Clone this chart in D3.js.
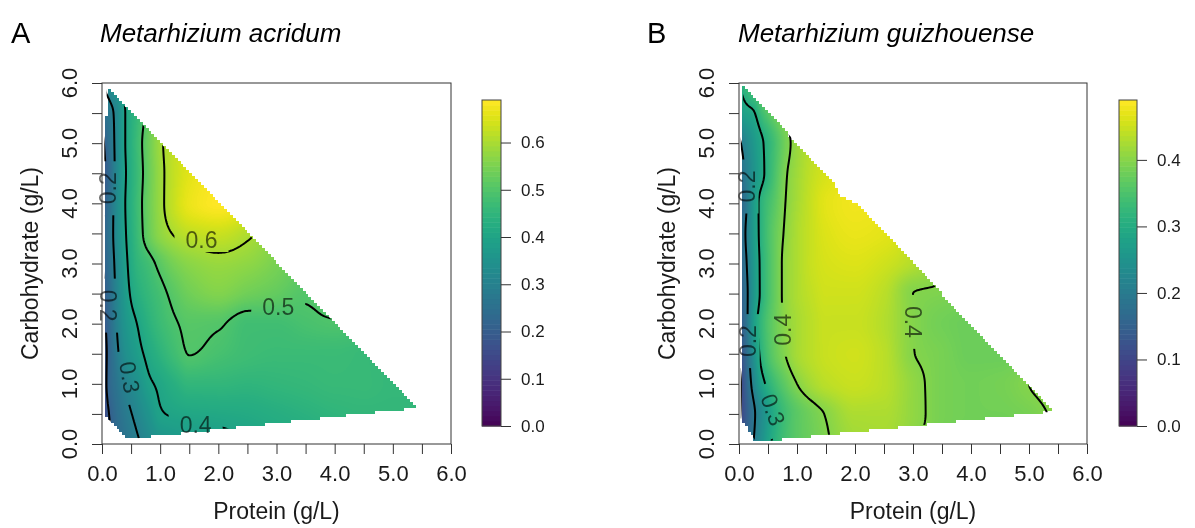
<!DOCTYPE html>
<html><head><meta charset="utf-8">
<script src="https://cdn.jsdelivr.net/npm/d3@7"></script>
<style>
body{margin:0;background:#fff;}
#wrap{position:relative;width:1195px;height:528px;overflow:hidden;}
canvas,svg{position:absolute;left:0;top:0;}
text{font-family:"Liberation Sans",Arial,Helvetica,sans-serif;}
</style></head><body><div id="wrap"><canvas id="cv" width="1195" height="528"></canvas><svg id="sv" width="1195" height="528"></svg></div>
<script>
// ---------------- data ----------------
const proteinNodes = [0, 0.1, 0.25, 0.4, 0.6, 0.8, 1.0, 1.25, 1.5, 2.0, 2.5, 3.0, 3.5, 4.0, 4.5, 5.0, 5.5, 6.0];
const carbNodes = [0, 0.5, 1, 1.5, 2, 2.5, 3, 3.5, 4, 4.5, 5, 5.5, 6];

// fitted response (rows: carbohydrate 0 -> 6, columns: protein nodes)
const surfaceA = [
 [0.10, 0.17, 0.225, 0.26, 0.29, 0.32, 0.345, 0.36, 0.37, 0.38, 0.395, 0.41, 0.42, 0.43, 0.44, 0.445, 0.45, 0.45],
 [0.11, 0.19, 0.245, 0.28, 0.315, 0.355, 0.395, 0.405, 0.41, 0.415, 0.42, 0.43, 0.44, 0.45, 0.455, 0.455, 0.455, 0.455],
 [0.13, 0.215, 0.265, 0.305, 0.345, 0.39, 0.41, 0.435, 0.455, 0.455, 0.45, 0.455, 0.46, 0.465, 0.465, 0.46, 0.46, 0.46],
 [0.15, 0.21, 0.285, 0.34, 0.38, 0.415, 0.445, 0.478, 0.501, 0.488, 0.475, 0.47, 0.47, 0.47, 0.465, 0.46, 0.46, 0.46],
 [0.165, 0.22, 0.30, 0.36, 0.40, 0.44, 0.47, 0.495, 0.51, 0.505, 0.48, 0.48, 0.49, 0.497, 0.49, 0.475, 0.465, 0.46],
 [0.18, 0.23, 0.31, 0.375, 0.43, 0.46, 0.485, 0.515, 0.54, 0.56, 0.54, 0.525, 0.505, 0.51, 0.5, 0.48, 0.47, 0.46],
 [0.195, 0.24, 0.32, 0.385, 0.45, 0.48, 0.515, 0.55, 0.57, 0.585, 0.575, 0.55, 0.52, 0.5, 0.48, 0.47, 0.46, 0.46],
 [0.20, 0.25, 0.33, 0.395, 0.465, 0.53, 0.575, 0.605, 0.625, 0.635, 0.61, 0.57, 0.53, 0.5, 0.47, 0.46, 0.46, 0.46],
 [0.18, 0.24, 0.33, 0.40, 0.47, 0.535, 0.585, 0.635, 0.67, 0.69, 0.665, 0.6, 0.54, 0.5, 0.47, 0.46, 0.46, 0.46],
 [0.17, 0.22, 0.32, 0.395, 0.465, 0.53, 0.585, 0.63, 0.66, 0.68, 0.65, 0.58, 0.53, 0.49, 0.47, 0.46, 0.46, 0.46],
 [0.18, 0.24, 0.32, 0.40, 0.47, 0.535, 0.59, 0.63, 0.65, 0.65, 0.6, 0.55, 0.51, 0.48, 0.47, 0.46, 0.46, 0.46],
 [0.25, 0.27, 0.32, 0.40, 0.46, 0.52, 0.56, 0.6, 0.62, 0.62, 0.58, 0.54, 0.5, 0.48, 0.47, 0.46, 0.46, 0.46],
 [0.29, 0.33, 0.38, 0.43, 0.5, 0.55, 0.58, 0.6, 0.6, 0.58, 0.55, 0.52, 0.5, 0.48, 0.47, 0.46, 0.46, 0.46]
];
const surfaceB = [
 [0.12, 0.15, 0.20, 0.25, 0.31, 0.345, 0.365, 0.38, 0.395, 0.42, 0.425, 0.405, 0.385, 0.38, 0.38, 0.385, 0.40, 0.405],
 [0.09, 0.13, 0.19, 0.24, 0.30, 0.34, 0.365, 0.385, 0.402, 0.43, 0.43, 0.41, 0.39, 0.385, 0.385, 0.39, 0.405, 0.41],
 [0.08, 0.14, 0.22, 0.285, 0.335, 0.37, 0.40, 0.425, 0.44, 0.45, 0.44, 0.41, 0.39, 0.385, 0.388, 0.40, 0.412, 0.415],
 [0.11, 0.155, 0.245, 0.32, 0.37, 0.40, 0.425, 0.44, 0.45, 0.455, 0.44, 0.401, 0.39, 0.38, 0.38, 0.385, 0.39, 0.39],
 [0.13, 0.17, 0.27, 0.33, 0.375, 0.405, 0.425, 0.44, 0.45, 0.45, 0.435, 0.40, 0.385, 0.38, 0.38, 0.38, 0.38, 0.38],
 [0.14, 0.175, 0.255, 0.315, 0.37, 0.41, 0.43, 0.445, 0.455, 0.455, 0.44, 0.40, 0.395, 0.39, 0.385, 0.385, 0.385, 0.385],
 [0.15, 0.185, 0.26, 0.315, 0.37, 0.41, 0.43, 0.45, 0.46, 0.465, 0.455, 0.435, 0.41, 0.395, 0.385, 0.385, 0.385, 0.385],
 [0.15, 0.195, 0.265, 0.32, 0.37, 0.405, 0.43, 0.45, 0.465, 0.475, 0.47, 0.45, 0.425, 0.405, 0.39, 0.39, 0.39, 0.39],
 [0.15, 0.185, 0.265, 0.32, 0.36, 0.40, 0.425, 0.45, 0.47, 0.48, 0.475, 0.455, 0.425, 0.40, 0.39, 0.39, 0.39, 0.39],
 [0.17, 0.20, 0.25, 0.29, 0.345, 0.395, 0.42, 0.445, 0.46, 0.475, 0.47, 0.45, 0.42, 0.40, 0.39, 0.39, 0.39, 0.39],
 [0.19, 0.22, 0.26, 0.295, 0.34, 0.385, 0.415, 0.44, 0.455, 0.47, 0.465, 0.445, 0.42, 0.40, 0.39, 0.39, 0.39, 0.39],
 [0.26, 0.28, 0.295, 0.34, 0.38, 0.41, 0.43, 0.45, 0.46, 0.47, 0.46, 0.44, 0.42, 0.40, 0.39, 0.39, 0.39, 0.39],
 [0.30, 0.33, 0.37, 0.40, 0.43, 0.45, 0.46, 0.47, 0.47, 0.47, 0.46, 0.44, 0.42, 0.40, 0.39, 0.39, 0.39, 0.39]
];

// experimental region (protein, carbohydrate)
const hullA = [[0.04,0.48],[0.04,5.43],[0.08,5.43],[0.08,5.92],[5.42,0.6],[0.44,0.08]];
const hullB = [[0.03,0.43],[0.03,5.44],[0.07,5.44],[0.07,5.94],[1.63,4.36],[1.74,4.11],[2.03,4.0],[5.42,0.54],[0.41,0.04],[0.28,0.06]];

const contourLevels = [0.1, 0.2, 0.3, 0.4, 0.5, 0.6];
const labelsA = [
 {text:"0.6", x:1.71, y:3.39, angle:0},
 {text:"0.5", x:3.03, y:2.28, angle:0},
 {text:"0.4", x:1.61, y:0.32, angle:0},
 {text:"0.3", x:0.48, y:1.11, angle:80},
 {text:"0.2", x:0.11, y:2.3, angle:90},
 {text:"0.2", x:0.10, y:4.25, angle:-90}
];
const labelsB = [
 {text:"0.2", x:0.13, y:4.28, angle:-90},
 {text:"0.2", x:0.15, y:1.71, angle:-90},
 {text:"0.3", x:0.59, y:0.57, angle:70},
 {text:"0.4", x:0.75, y:1.9, angle:-90},
 {text:"0.4", x:3.0, y:2.03, angle:90}
];

const axisTicks = [0,0.5,1,1.5,2,2.5,3,3.5,4,4.5,5,5.5,6];
const legendTicksA = [0,0.1,0.2,0.3,0.4,0.5,0.6];
const legendTicksB = [0,0.1,0.2,0.3,0.4];
const zRangeA = [0, 0.69];
const zRangeB = [0, 0.49];
const titlesA = {letter:"A", species:"Metarhizium acridum"};
const titlesB = {letter:"B", species:"Metarhizium guizhouense"};

// ---------------- helpers ----------------
function pchip(xs, ys){
  const n=xs.length, h=[], d=[], m=new Array(n);
  for(let i=0;i<n-1;i++){h[i]=xs[i+1]-xs[i]; d[i]=(ys[i+1]-ys[i])/h[i];}
  m[0]=d[0]; m[n-1]=d[n-2];
  for(let i=1;i<n-1;i++){
    if(d[i-1]*d[i]<=0) m[i]=0;
    else { const w1=2*h[i]+h[i-1], w2=h[i]+2*h[i-1]; m[i]=(w1+w2)/(w1/d[i-1]+w2/d[i]); }
  }
  return x=>{
    let i=d3.bisectRight(xs,x)-1; i=Math.max(0,Math.min(n-2,i));
    const t=(x-xs[i])/h[i], t2=t*t, t3=t2*t;
    return (2*t3-3*t2+1)*ys[i]+(t3-2*t2+t)*h[i]*m[i]+(-2*t3+3*t2)*ys[i+1]+(t3-t2)*h[i]*m[i+1];
  };
}
const STEP=0.025, N=241;
function buildGrid(surface){
  const rowsFine = surface.map(row=>{const f=pchip(proteinNodes,row); return d3.range(N).map(i=>f(i*STEP));});
  const grid = new Float64Array(N*N);
  for(let i=0;i<N;i++){
    const g=pchip(carbNodes, rowsFine.map(r=>r[i]));
    for(let k=0;k<N;k++) grid[k*N+i]=g(k*STEP);
  }
  return grid;
}
function sample(grid,x,y){
  let fx=Math.max(0,Math.min(N-1.0001,x/STEP)), fy=Math.max(0,Math.min(N-1.0001,y/STEP));
  const i=Math.floor(fx), k=Math.floor(fy), tx=fx-i, ty=fy-k;
  const a=grid[k*N+i], b=grid[k*N+i+1], c=grid[(k+1)*N+i], d=grid[(k+1)*N+i+1];
  return a*(1-tx)*(1-ty)+b*tx*(1-ty)+c*(1-tx)*ty+d*tx*ty;
}
const lut = d3.range(256).map(i=>d3.rgb(d3.interpolateViridis(i/255)));

const W=1195,H=528;
const canvas=document.getElementById('cv'), ctx=canvas.getContext('2d');
const img=ctx.createImageData(W,H);
const svg=d3.select('#sv');
const FONT='"Liberation Sans",Arial,Helvetica,sans-serif';

const panels=[
 {id:'A', surface:surfaceA, hull:hullA, labels:labelsA, z:zRangeA, lt:legendTicksA, titles:titlesA,
  x:d3.scaleLinear([0,6],[102,451]), y:d3.scaleLinear([0,6],[444,83]), bar:[482,501], letterX:11, titleX:100},
 {id:'B', surface:surfaceB, hull:hullB, labels:labelsB, z:zRangeB, lt:legendTicksB, titles:titlesB,
  x:d3.scaleLinear([0,6],[739,1087]), y:d3.scaleLinear([0,6],[444,83]), bar:[1119,1137], letterX:647, titleX:738}
];

const CELL=0.05;
panels.forEach(p=>{
  const grid=buildGrid(p.surface);
  p.grid=grid;
  const [px0,px1]=p.x.range(), py0=p.y(6), py1=p.y(0);
  const cache=new Map();
  for(let py=Math.floor(py0); py<Math.ceil(py1); py++){
    for(let px=Math.floor(px0); px<Math.ceil(px1); px++){
      const dx=p.x.invert(px+0.5), dy=p.y.invert(py+0.5);
      const ci=Math.floor(dx/CELL), cj=Math.floor(dy/CELL), key=ci*1000+cj;
      let inside=cache.get(key);
      if(inside===undefined){inside=d3.polygonContains(p.hull,[(ci+0.5)*CELL,(cj+0.5)*CELL]); cache.set(key,inside);}
      if(!inside) continue;
      const v=sample(grid,dx,dy);
      const t=(v-p.z[0])/(p.z[1]-p.z[0]);
      const c=lut[Math.max(0,Math.min(255,Math.round(t*255)))];
      const idx=(py*W+px)*4;
      img.data[idx]=c.r; img.data[idx+1]=c.g; img.data[idx+2]=c.b; img.data[idx+3]=255;
    }
  }
});
ctx.putImageData(img,0,0);

panels.forEach(p=>{
  const g=svg.append('g');
  const x=p.x, y=p.y;
  const defs=svg.append('defs');
  defs.append('clipPath').attr('id','clip'+p.id).append('path')
    .attr('d', d3.line()(p.hull.map(d=>[x(d[0]),y(d[1])]))+'Z');
  const mask=defs.append('mask').attr('id','mask'+p.id).attr('maskUnits','userSpaceOnUse')
    .attr('x',0).attr('y',0).attr('width',W).attr('height',H);
  mask.append('rect').attr('width',W).attr('height',H).attr('fill','#fff');
  mask.selectAll('rect.l').data(p.labels).join('rect').attr('class','l')
    .attr('x',-27).attr('y',-12).attr('width',54).attr('height',24).attr('fill','#000')
    .attr('transform',d=>`translate(${x(d.x)},${y(d.y)}) rotate(${d.angle})`);

  const cs=d3.contours().size([N,N]).thresholds(contourLevels)(p.grid);
  const proj=d3.geoTransform({point(a,b){this.stream.point(x((a-0.5)*STEP), y((b-0.5)*STEP));}});
  const path=d3.geoPath(proj);
  g.append('g').attr('clip-path',`url(#clip${p.id})`).append('g').attr('mask',`url(#mask${p.id})`)
    .selectAll('path').data(cs).join('path').attr('d',path)
    .attr('fill','none').attr('stroke','#000').attr('stroke-width',2).attr('stroke-linejoin','round');

  g.append('g').selectAll('text').data(p.labels).join('text')
    .attr('transform',d=>`translate(${x(d.x)},${y(d.y)}) rotate(${d.angle})`)
    .attr('text-anchor','middle').attr('dy','0.36em')
    .attr('font-size',23).attr('fill','#000').attr('fill-opacity',0.6)
    .text(d=>d.text);

  g.append('rect').attr('x',x(0)).attr('y',y(6)).attr('width',x(6)-x(0)).attr('height',y(0)-y(6))
    .attr('fill','none').attr('stroke','#333').attr('stroke-width',1);

  const ax=g.append('g').attr('transform',`translate(0,${y(0)})`)
    .call(d3.axisBottom(x).tickValues(axisTicks).tickFormat(d=>d%1===0?d3.format('.1f')(d):'').tickSize(10).tickPadding(11));
  ax.select('.domain').remove();
  ax.selectAll('line').attr('stroke','#333');
  ax.selectAll('text').attr('font-size',22).attr('font-family',FONT).attr('fill','#1a1a1a');
  const ay=g.append('g').attr('transform',`translate(${x(0)},0)`)
    .call(d3.axisLeft(y).tickValues(axisTicks).tickFormat('').tickSize(10));
  ay.select('.domain').remove();
  ay.selectAll('line').attr('stroke','#333');
  g.append('g').selectAll('text').data(axisTicks.filter(d=>d%1===0)).join('text')
    .attr('transform',d=>`translate(${x(0)-25},${y(d)}) rotate(-90)`)
    .attr('text-anchor','middle').attr('font-size',22).attr('fill','#1a1a1a')
    .text(d=>d3.format('.1f')(d));

  g.append('text').attr('x',(x(0)+x(6))/2).attr('y',519).attr('text-anchor','middle')
    .attr('font-size',23).attr('fill','#1a1a1a').text('Protein (g/L)');
  g.append('text').attr('transform',`translate(${x(0)-64},${(y(0)+y(6))/2}) rotate(-90)`)
    .attr('text-anchor','middle').attr('font-size',23).attr('fill','#1a1a1a').text('Carbohydrate (g/L)');

  g.append('text').attr('x',p.letterX).attr('y',43).attr('font-size',29).attr('fill','#000').text(p.titles.letter);
  g.append('text').attr('x',p.titleX).attr('y',42).attr('font-size',26).attr('font-style','italic').attr('fill','#000').text(p.titles.species);

  const c=d3.scaleLinear(p.z,[426,100]);
  const nb=64, bands=d3.range(nb);
  const lg=g.append('g');
  lg.selectAll('rect').data(bands).join('rect')
    .attr('x',p.bar[0]).attr('width',p.bar[1]-p.bar[0])
    .attr('y',i=>c(p.z[0]+(i+1)*(p.z[1]-p.z[0])/nb))
    .attr('height',i=>c(p.z[0]+i*(p.z[1]-p.z[0])/nb)-c(p.z[0]+(i+1)*(p.z[1]-p.z[0])/nb)+0.5)
    .attr('fill',i=>d3.interpolateViridis((i+0.5)/nb));
  lg.append('rect').attr('x',p.bar[0]).attr('y',100).attr('width',p.bar[1]-p.bar[0]).attr('height',326)
    .attr('fill','none').attr('stroke','#444').attr('stroke-width',1);
  const al=lg.append('g').attr('transform',`translate(${p.bar[1]},0)`)
    .call(d3.axisRight(c).tickValues(p.lt).tickFormat(d3.format('.1f')).tickSize(10).tickPadding(10));
  al.select('.domain').remove();
  al.selectAll('line').attr('stroke','#333');
  al.selectAll('text').attr('font-size',17).attr('font-family',FONT).attr('fill','#1a1a1a');
});
</script></body></html>
